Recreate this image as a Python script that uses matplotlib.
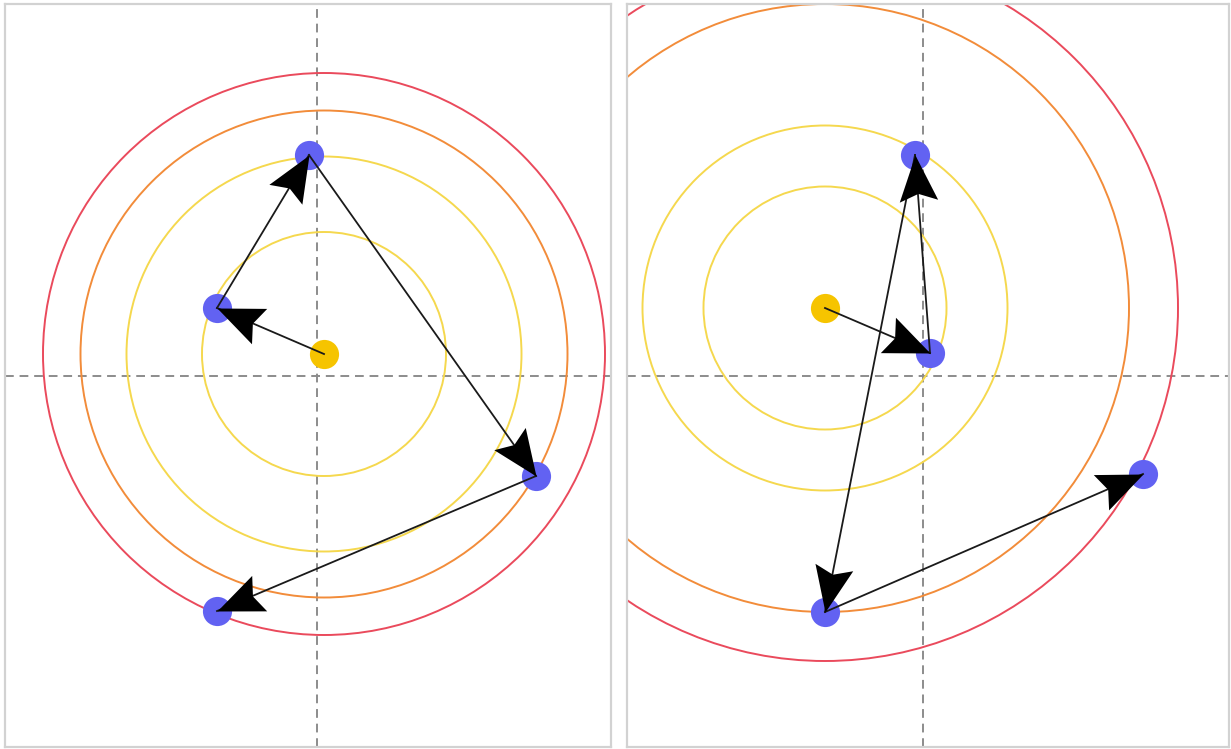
import numpy as np
import matplotlib
matplotlib.use('Agg')
import matplotlib.pyplot as plt
from matplotlib.markers import MarkerStyle
from matplotlib.path import Path
from matplotlib.transforms import Affine2D
from matplotlib.patches import Circle

# positions in units of 100 px, origin at the dashed crosshair
left_center = (0.07, 0.22)
left_x = [-1.00, -0.08, 2.19, -1.00]
left_y = [0.68, 2.21, -1.00, -2.35]
left_radii = [1.22, 1.975, 2.435, 2.81]

right_center = (-0.98, 0.68)
right_x = [0.07, -0.08, -0.98, 2.20]
right_y = [0.23, 2.21, -2.36, -0.98]
right_radii = [1.215, 1.825, 3.04, 3.53]

ring_colors = ['#f5d84e', '#f5d84e', '#f28c3a', '#ea4a5c']

W, H = 1231, 749

# concave arrowhead, tip at origin, pointing along +x
head = Path([(0, 0), (-1, 0.42), (-0.84, 0), (-1, -0.42), (0, 0)],
            [Path.MOVETO, Path.LINETO, Path.LINETO, Path.LINETO, Path.CLOSEPOLY])


def draw_panel(ax, center, xs, ys, radii):
    cx, cy = center
    ax.axhline(0, color='#8c8c8c', lw=1.4, ls=(0, (4.5, 3)), zorder=1)
    ax.axvline(0, color='#8c8c8c', lw=1.4, ls=(0, (4.5, 3)), zorder=1)

    for r, c in zip(radii, ring_colors):
        ax.add_patch(Circle((cx, cy), r, fill=False, ec=c, lw=1.4, zorder=2))

    ax.plot(xs, ys, 'o', color='#6262f2', ms=21, mec='none', zorder=3)
    ax.plot([cx], [cy], 'o', color='#f6c400', ms=21, mec='none', zorder=3)

    px = [cx] + list(xs)
    py = [cy] + list(ys)
    for i in range(len(xs)):
        x0, y0, x1, y1 = px[i], py[i], px[i + 1], py[i + 1]
        ax.plot([x0, x1], [y0, y1], color='#1a1a1a', lw=1.3, zorder=4)
        ang = np.degrees(np.arctan2(y1 - y0, x1 - x0))
        m = MarkerStyle(head, transform=Affine2D().rotate_deg(ang))
        ax.plot([x1], [y1], marker=m, ms=66, color='black', mec='none', zorder=5)

    ax.set_xticks([])
    ax.set_yticks([])
    for s in ax.spines.values():
        s.set_color('#d2d2d2')
        s.set_linewidth(1.6)


fig = plt.figure(figsize=(W / 100, H / 100), dpi=100)

ax1 = fig.add_axes([5 / W, 2 / H, 606 / W, 743 / H])
ax1.set_xlim(-3.12, 2.94)
ax1.set_ylim(-3.71, 3.72)
draw_panel(ax1, left_center, left_x, left_y, left_radii)

ax2 = fig.add_axes([627 / W, 2 / H, 602 / W, 743 / H])
ax2.set_xlim(-2.96, 3.06)
ax2.set_ylim(-3.71, 3.72)
draw_panel(ax2, right_center, right_x, right_y, right_radii)

plt.savefig('out.png', dpi=100)
